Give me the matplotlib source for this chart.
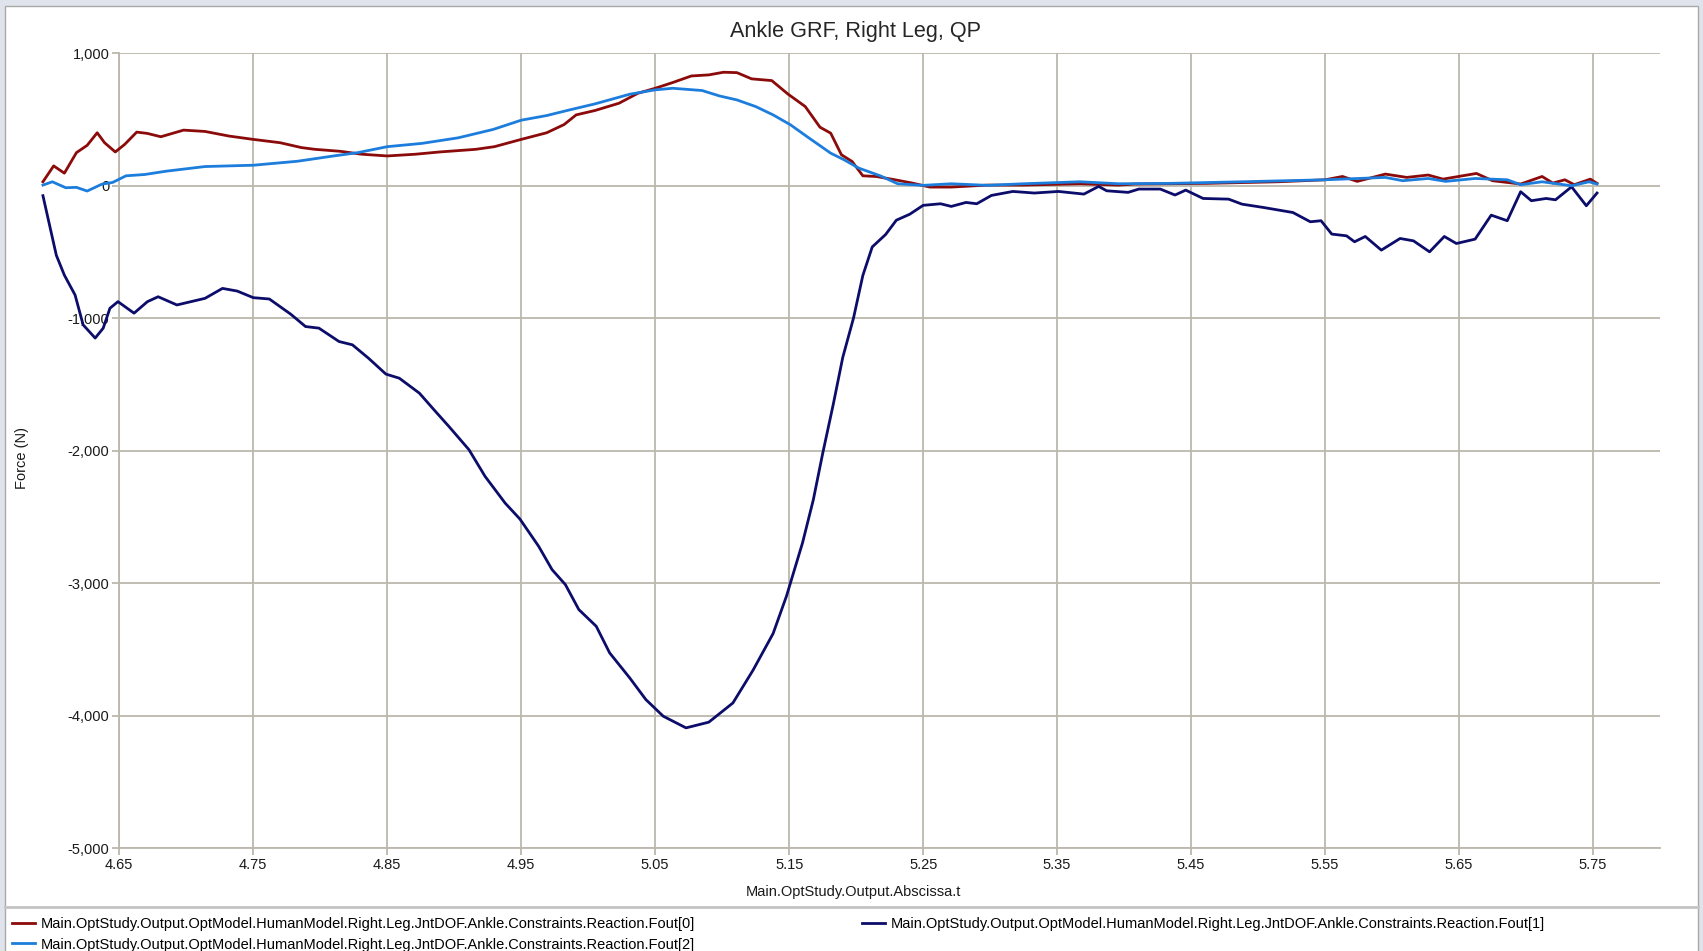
import matplotlib
matplotlib.use("Agg")
import matplotlib.pyplot as plt
from matplotlib.patches import Rectangle
from matplotlib.lines import Line2D
from matplotlib.ticker import FuncFormatter, FixedLocator

plt.rcParams["font.family"] = ["Liberation Sans", "DejaVu Sans"]

# Fout[0] (dark red)
t0 = [4.593, 4.601, 4.609, 4.618, 4.626, 4.6335, 4.639, 4.647, 4.654, 4.663,
      4.671, 4.681, 4.698, 4.714, 4.732, 4.750, 4.770, 4.786, 4.796, 4.815,
      4.831, 4.850, 4.871, 4.889, 4.916, 4.930, 4.950, 4.969, 4.982, 4.991,
      5.005, 5.023, 5.037, 5.050, 5.063, 5.077, 5.090, 5.101, 5.111, 5.122,
      5.137, 5.149, 5.162, 5.173, 5.181, 5.189, 5.197, 5.205, 5.215, 5.229,
      5.242, 5.255, 5.271, 5.298, 5.325, 5.367, 5.396, 5.408, 5.462, 5.515,
      5.550, 5.563, 5.574, 5.595, 5.611, 5.627, 5.638, 5.663, 5.675, 5.696,
      5.712, 5.720, 5.729, 5.736, 5.748, 5.753]
f0 = [30, 150, 95, 250, 305, 400, 325, 255, 312, 405,
      395, 370, 420, 410, 375, 350, 325, 288, 275, 260,
      238, 225, 238, 255, 275, 295, 350, 400, 462, 535,
      568, 623, 698, 736, 779, 829, 837, 857, 854, 807,
      794, 693, 598, 442, 397, 234, 183, 75, 70, 45,
      20, -10, -10, 5, 5, 15, 5, 13, 18, 30,
      45, 70, 33, 88, 63, 81, 50, 93, 38, 13,
      70, 20, 45, 8, 50, 18]

# Fout[1] (navy)
t1 = [4.593, 4.598, 4.603, 4.609, 4.617, 4.623, 4.632, 4.638, 4.643, 4.649,
      4.661, 4.671, 4.679, 4.693, 4.714, 4.727, 4.738, 4.750, 4.762, 4.778,
      4.789, 4.799, 4.814, 4.824, 4.836, 4.849, 4.859, 4.874, 4.886, 4.896,
      4.911, 4.923, 4.938, 4.949, 4.963, 4.973, 4.983, 4.993, 5.006, 5.016,
      5.031, 5.043, 5.056, 5.073, 5.090, 5.108, 5.123, 5.138, 5.148, 5.160,
      5.168, 5.175, 5.183, 5.190, 5.198, 5.205, 5.212, 5.222, 5.230, 5.240,
      5.250, 5.263, 5.271, 5.282, 5.290, 5.301, 5.317, 5.333, 5.351, 5.370,
      5.381, 5.387, 5.403, 5.411, 5.427, 5.438, 5.446, 5.459, 5.478, 5.488,
      5.504, 5.526, 5.539, 5.547, 5.555, 5.566, 5.572, 5.580, 5.592, 5.606,
      5.616, 5.628, 5.639, 5.648, 5.662, 5.674, 5.686, 5.696, 5.704, 5.715,
      5.722, 5.734, 5.745, 5.753]
f1 = [-75, -300, -525, -675, -825, -1050, -1150, -1075, -925, -875,
      -962, -875, -838, -900, -850, -775, -795, -845, -855, -970,
      -1063, -1075, -1176, -1201, -1302, -1422, -1453, -1566, -1704, -1817,
      -1993, -2194, -2396, -2516, -2722, -2898, -3012, -3200, -3326, -3527,
      -3716, -3879, -4005, -4093, -4050, -3905, -3658, -3381, -3098, -2695,
      -2372, -2022, -1646, -1296, -1000, -677, -462, -368, -260, -215,
      -148, -136, -156, -126, -136, -73, -43, -55, -43, -63,
      -5, -38, -50, -25, -25, -70, -33, -96, -101, -139,
      -164, -202, -272, -264, -365, -378, -423, -383, -486, -398,
      -416, -499, -383, -436, -403, -222, -264, -45, -113, -96,
      -106, -8, -151, -55]

# Fout[2] (light blue)
t2 = [4.593, 4.600, 4.610, 4.618, 4.626, 4.637, 4.645, 4.655, 4.669, 4.685,
      4.714, 4.750, 4.783, 4.810, 4.828, 4.850, 4.876, 4.903, 4.929, 4.950,
      4.969, 4.985, 5.005, 5.031, 5.050, 5.063, 5.085, 5.098, 5.111, 5.125,
      5.138, 5.151, 5.165, 5.181, 5.191, 5.202, 5.218, 5.231, 5.250, 5.271,
      5.298, 5.325, 5.367, 5.396, 5.435, 5.488, 5.550, 5.595, 5.608, 5.627,
      5.640, 5.662, 5.686, 5.696, 5.712, 5.734, 5.747, 5.753]
f2 = [5, 30, -15, -12, -40, 12, 25, 75, 85, 110,
      145, 155, 185, 225, 250, 295, 320, 362, 425, 495,
      530, 570, 618, 691, 724, 736, 719, 678, 648, 598,
      535, 460, 359, 246, 196, 133, 75, 15, 3, 15,
      3, 15, 30, 15, 18, 30, 45, 63, 38, 55,
      33, 55, 45, 8, 30, 0, 30, 13]

x_ticks = [4.65, 4.75, 4.85, 4.95, 5.05, 5.15, 5.25, 5.35, 5.45, 5.55, 5.65, 5.75]
y_ticks = [-5000, -4000, -3000, -2000, -1000, 0, 1000]

prefix = "Main.OptStudy.Output.OptModel.HumanModel.Right.Leg.JntDOF.Ankle.Constraints.Reaction."
labels = [prefix + "Fout[0]", prefix + "Fout[1]", prefix + "Fout[2]"]
colors = ["#8b0a0a", "#0c0c6a", "#1c7ddc"]

W, H = 1703, 951
fig = plt.figure(figsize=(W / 100, H / 100), dpi=100, facecolor="#dfe4ec")

# white panel with thin border, behind everything
fig.add_artist(Rectangle((5 / W, -0.01), 1693 / W, 1 - 6 / H + 0.01,
                         transform=fig.transFigure, facecolor="white",
                         edgecolor="#a9a9a9", linewidth=1.0, zorder=-10))
# separator above legend
fig.add_artist(Line2D([5 / W, 1698 / W], [1 - 907 / H] * 2, transform=fig.transFigure,
                      color="#c4c4c4", linewidth=2.0, zorder=-5))

gc = "#bbb7ab"
ax = fig.add_axes([119.3 / W, 1 - 848 / H, (1660 - 119.3) / W, (848 - 53.3) / H])
ax.patch.set_alpha(0)
ax.set_axisbelow(True)

for t, f, c, lab in zip([t0, t1, t2], [f0, f1, f2], colors, labels):
    ax.plot(t, f, color=c, linewidth=2.0, label=lab, clip_on=False, zorder=3)

ax.set_xlim(4.65, 5.80)
ax.set_ylim(-5000, 1000)
ax.xaxis.set_major_locator(FixedLocator(x_ticks))
ax.yaxis.set_major_locator(FixedLocator(y_ticks))
ax.xaxis.set_major_formatter(FuncFormatter(lambda v, p: f"{v:.2f}"))
ax.yaxis.set_major_formatter(FuncFormatter(lambda v, p: f"{int(round(v)):,}"))
ax.grid(True, color=gc, linewidth=1.3)
for s in ["top", "right"]:
    ax.spines[s].set_visible(False)
for s in ["left", "bottom"]:
    ax.spines[s].set_color(gc)
    ax.spines[s].set_linewidth(1.3)
ax.tick_params(axis="both", colors=gc, labelcolor="#1a1a1a", labelsize=10.5,
               length=5, width=1.3, pad=2)

# title and x label are centred on the whole panel, not on the plot area
fig.text(855 / W, 1 - 31 / H, "Ankle GRF, Right Leg, QP", fontsize=15.6,
         color="#262626", ha="center", va="center")
ax.set_xlabel("Main.OptStudy.Output.Abscissa.t", fontsize=10.5, color="#1a1a1a")
ax.xaxis.set_label_coords(0.4767, -0.047)
ax.set_ylabel("Force (N)", fontsize=10.5, color="#1a1a1a")
ax.yaxis.set_label_coords(-0.0586, 0.491)

handles, labs = ax.get_legend_handles_labels()
order = [0, 2, 1]
fig.legend([handles[i] for i in order], [labs[i] for i in order],
           loc="upper left", bbox_to_anchor=(12 / W, 1 - 917 / H), ncol=2,
           frameon=False, fontsize=10.5, handlelength=1.6, handletextpad=0.4,
           labelspacing=0.45, columnspacing=11.4, borderaxespad=0, borderpad=0)

fig.savefig("out.png", dpi=100, facecolor=fig.get_facecolor())
